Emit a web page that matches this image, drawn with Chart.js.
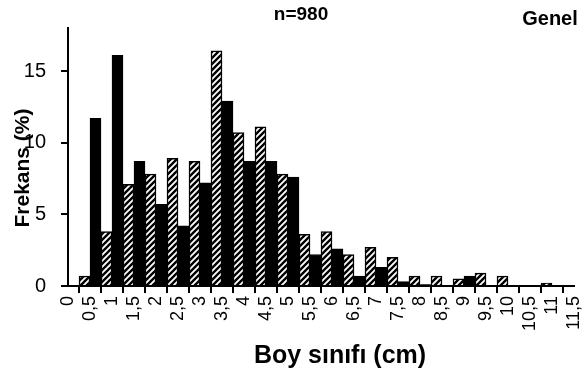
<!DOCTYPE html>
<html lang="tr">
<head>
  <meta charset="UTF-8" />
  <title>Boy sınıfı frekansları</title>
  <script src="https://cdn.jsdelivr.net/npm/chart.js"></script>
  <style>
    html, body { margin: 0; padding: 0; background: #fff; }
    #kutu { width: 586px; height: 379px; }
  </style>
</head>
<body>
  <div id="kutu"><canvas id="grafik"></canvas></div>

  <script>
    // sınıf sınırları (eksen etiketleri)
    const sinirEtiketleri = ["0", "0,5", "1", "1,5", "2", "2,5", "3", "3,5", "4", "4,5", "5", "5,5",
      "6", "6,5", "7", "7,5", "8", "8,5", "9", "9,5", "10", "10,5", "11", "11,5"];
    // her sınıf aralığı için frekans (%)
    const siyahSeri = [0, 11.7, 16.1, 8.7, 5.7, 4.2, 7.2, 12.9, 8.7, 8.7, 7.6, 2.2,
      2.6, 0.7, 1.3, 0.3, 0.1, 0, 0.7, 0, 0, 0, 0];
    const taraliSeri = [0.7, 3.8, 7.1, 7.8, 8.9, 8.7, 16.4, 10.7, 11.1, 7.8, 3.6, 3.8,
      2.2, 2.7, 2.0, 0.7, 0.7, 0.5, 0.9, 0.7, 0, 0.2, 0];
    const yTikler = [0, 5, 10, 15];

    const siniflar = sinirEtiketleri.slice(0, -1).map((s, i) => s + "-" + sinirEtiketleri[i + 1]);
    const FONT = "'Liberation Sans', Arial, sans-serif";

    function taraliDesen() {
      const c = document.createElement("canvas");
      c.width = 6; c.height = 6;
      const g = c.getContext("2d");
      g.fillStyle = "#fff";
      g.fillRect(0, 0, 6, 6);
      g.strokeStyle = "#000";
      g.lineWidth = 2.4;
      g.beginPath();
      g.moveTo(-1, 7); g.lineTo(7, -1);
      g.moveTo(-4, 4); g.lineTo(4, -4);
      g.moveTo(2, 10); g.lineTo(10, 2);
      g.stroke();
      return g.createPattern(c, "repeat");
    }

    const yazilar = {
      id: "yazilar",
      afterDraw(chart) {
        const ctx = chart.ctx;
        ctx.save();
        ctx.fillStyle = "#000";
        ctx.textAlign = "center";
        ctx.textBaseline = "middle";
        ctx.font = "bold 19px " + FONT;
        ctx.fillText("n=980", 301, 15);
        ctx.font = "bold 20px " + FONT;
        ctx.fillText("Genel", 550, 19);
        ctx.font = "bold 25px " + FONT;
        ctx.fillText("Boy sınıfı (cm)", 340, 356);
        ctx.font = "bold 21px " + FONT;
        ctx.translate(23, 168);
        ctx.rotate(-Math.PI / 2);
        ctx.fillText("Frekans (%)", 0, 0);
        ctx.restore();
      }
    };

    window.onload = function () {
      const desen = taraliDesen();
      new Chart(document.getElementById("grafik"), {
        type: "bar",
        data: {
          labels: siniflar,
          datasets: [
            {
              label: "siyah",
              data: siyahSeri,
              backgroundColor: "#000",
              borderColor: "#000",
              borderWidth: 1,
              categoryPercentage: 1,
              barPercentage: 1
            },
            {
              label: "taralı",
              data: taraliSeri,
              backgroundColor: desen,
              borderColor: "#000",
              borderWidth: 1.5,
              categoryPercentage: 1,
              barPercentage: 1
            }
          ]
        },
        options: {
          responsive: true,
          maintainAspectRatio: false,
          animation: false,
          layout: { padding: { top: 28, right: 12, left: 0, bottom: 0 } },
          plugins: { legend: { display: false }, tooltip: { enabled: false } },
          scales: {
            x: { type: "category", display: false, offset: true },
            x2: {
              type: "category",
              labels: sinirEtiketleri,
              position: "bottom",
              offset: false,
              grid: { drawOnChartArea: false, tickLength: 7, color: "#000", lineWidth: 2 },
              border: { color: "#000", width: 2 },
              ticks: {
                autoSkip: false, maxRotation: 90, minRotation: 90,
                color: "#000", padding: 3, font: { family: FONT, size: 18 }
              },
              afterFit: s => { s.height = 93; s.paddingLeft = 0; s.paddingRight = 0; }
            },
            y: {
              min: 0, max: 18,
              afterBuildTicks: s => { s.ticks = yTikler.map(v => ({ value: v })); },
              grid: { drawOnChartArea: false, tickLength: 7, color: "#000", lineWidth: 2 },
              border: { color: "#000", width: 2 },
              ticks: { color: "#000", padding: 15, font: { family: FONT, size: 20 } },
              afterFit: s => { s.width = 68; }
            }
          }
        },
        plugins: [yazilar]
      });
    };
  </script>
</body>
</html>
